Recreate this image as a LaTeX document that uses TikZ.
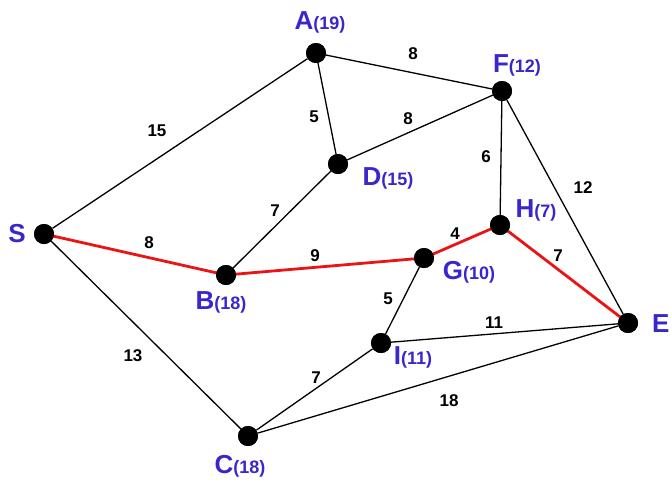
\documentclass[tikz,border=0pt]{standalone}
\usepackage{fontspec}
\setmainfont{Liberation Sans}
\definecolor{lblue}{RGB}{58,38,205}
\definecolor{pathred}{RGB}{235,20,20}
\begin{document}
\begin{tikzpicture}[x=1pt,y=-1pt,
  vtx/.style={circle,fill=black,inner sep=0pt,minimum size=20pt},
  edge/.style={draw=black,line width=1.3pt},
  redge/.style={draw=pathred,line width=2.8pt},
  wt/.style={font=\fontsize{17}{17}\selectfont\bfseries,text=black,inner sep=1pt},
  nl/.style={font=\fontsize{26}{26}\selectfont\bfseries,text=lblue,inner sep=0pt}]
\useasboundingbox (0,0) rectangle (672,483);
\node[vtx] (S) at (44,234) {};
\node[vtx] (A) at (316,53) {};
\node[vtx] (F) at (502,91) {};
\node[vtx] (D) at (338,164) {};
\node[vtx] (H) at (500,225) {};
\node[vtx] (G) at (424,258) {};
\node[vtx] (B) at (226,275) {};
\node[vtx] (E) at (628,323) {};
\node[vtx] (I) at (381,343) {};
\node[vtx] (C) at (248,436) {};
% black edges
\draw[edge] (S) -- (A);
\draw[edge] (S) -- (C);
\draw[edge] (A) -- (F);
\draw[edge] (A) -- (D);
\draw[edge] (D) -- (F);
\draw[edge] (D) -- (B);
\draw[edge] (F) -- (H);
\draw[edge] (F) -- (E);
\draw[edge] (G) -- (I);
\draw[edge] (I) -- (E);
\draw[edge] (I) -- (C);
\draw[edge] (C) -- (E);
% red path
\draw[redge,line join=round] (S.center) -- (B.center) -- (G.center) -- (H.center) -- (E.center);
\foreach \n in {S,A,F,D,H,G,B,E,I,C} \fill (\n) circle (10pt);
% weights
\node[wt] (w1) at (157,131) {15};
\node[wt] (w2) at (413,54) {8};
\node[wt] (w3) at (314,117) {5};
\node[wt] (w4) at (408,119) {8};
\node[wt] (w5) at (486,157) {6};
\node[wt] (w6) at (583,188) {12};
\node[wt] (w7) at (275,211) {7};
\node[wt] (w8) at (149,243) {8};
\node[wt] (w9) at (315,256) {9};
\node[wt] (w10) at (455,234) {4};
\node[wt] (w11) at (558,256) {7};
\node[wt] (w12) at (388,299) {5};
\node[wt] (w13) at (494,323) {11};
\node[wt] (w14) at (133,356) {13};
\node[wt] (w15) at (316,378) {7};
\node[wt] (w16) at (449,401) {18};
% node labels
\newcommand{\vl}[2]{#1{\fontsize{18}{18}\selectfont(#2)}}
\node[nl] (lS) at (17,234) {S};
\node[nl] (lA) at (320,22) {\vl{A}{19}};
\node[nl] (lF) at (517,65) {\vl{F}{12}};
\node[nl] (lD) at (388,178) {\vl{D}{15}};
\node[nl] (lH) at (536,210) {\vl{H}{7}};
\node[nl] (lG) at (469,272) {\vl{G}{10}};
\node[nl] (lB) at (221,302) {\vl{B}{18}};
\node[nl,anchor=west] (lE) at (652,324) {E};
\node[nl] (lI) at (413,357) {\vl{I}{11}};
\node[nl] (lC) at (240,466) {\vl{C}{18}};
\end{tikzpicture}
\end{document}
